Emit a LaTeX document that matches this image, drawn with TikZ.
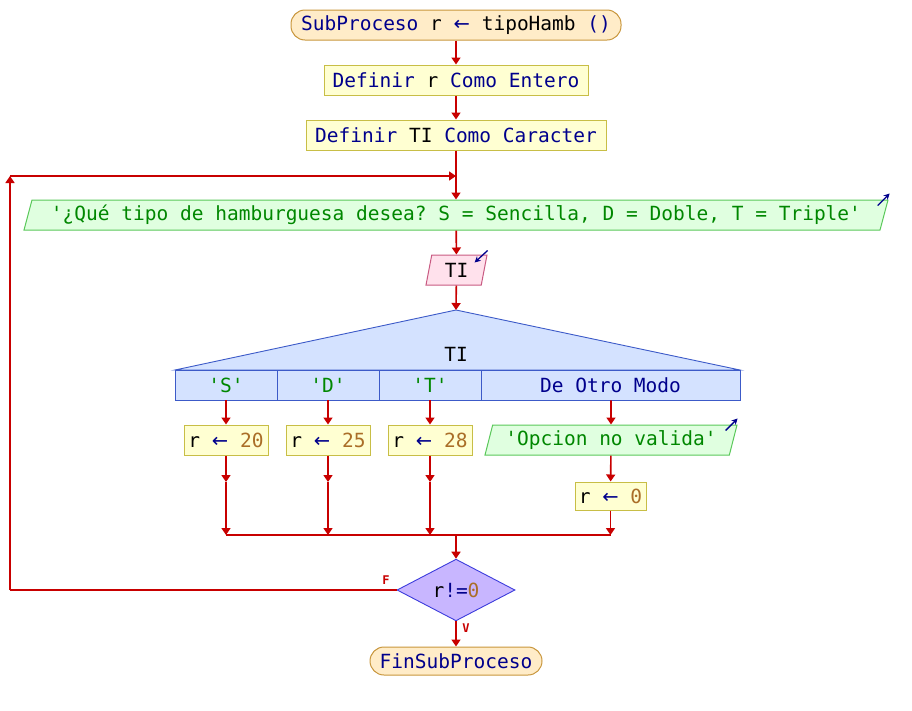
\documentclass[tikz,border=0pt]{standalone}
\usepackage{fontspec}
\setmonofont{DejaVu Sans Mono}
\newfontfamily\arrfont{DejaVu Sans}
\usetikzlibrary{arrows.meta}
\usetikzlibrary{shapes.geometric}
\definecolor{arrred}{RGB}{200,0,0}
\definecolor{kwblue}{RGB}{0,0,140}
\definecolor{numbrown}{RGB}{170,110,40}
\definecolor{strgreen}{RGB}{0,135,0}
\definecolor{termbg}{RGB}{255,236,200}
\definecolor{termbd}{RGB}{200,150,60}
\definecolor{procbg}{RGB}{255,255,210}
\definecolor{procbd}{RGB}{200,190,70}
\definecolor{outbg}{RGB}{224,255,224}
\definecolor{outbd}{RGB}{90,200,90}
\definecolor{inbg}{RGB}{255,225,236}
\definecolor{inbd}{RGB}{200,90,130}
\definecolor{swbg}{RGB}{212,226,255}
\definecolor{swbd}{RGB}{60,90,200}
\definecolor{condbg}{RGB}{200,182,255}
\definecolor{condbd}{RGB}{60,60,220}
\newcommand\kwd[1]{\textcolor{kwblue}{#1}}
\newcommand\numb[1]{\textcolor{numbrown}{#1}}
\newcommand\strg[1]{\textcolor{strgreen}{#1}}
\newcommand\asg{\kwd{{\arrfont ←}}}
\tikzset{arr/.style = {draw=arrred, line width=1.6, -{Triangle[length=7,width=9]}}}
\tikzset{term/.style = {draw=termbd, fill=termbg, line width=1, rounded corners=14, minimum height=30, inner sep=0}}
\tikzset{proc/.style = {draw=procbd, fill=procbg, line width=1, minimum height=30, inner sep=0}}
\tikzset{outp/.style = {trapezium, trapezium left angle=68, trapezium right angle=112,
    trapezium stretches body, draw=outbd, fill=outbg, line width=1, minimum height=30, inner sep=0}}
\tikzset{inp/.style = {outp, draw=inbd, fill=inbg}}
\tikzset{cell/.style = {draw=swbd, fill=swbg, line width=0.9, minimum height=30, inner sep=0}}
\tikzset{cond/.style = {diamond, draw=condbd, fill=condbg, line width=0.9, minimum width=118, minimum height=56, inner sep=0}}
\tikzset{icon/.style = {draw=kwblue, line width=1.3, -{Stealth[length=6,width=6]}}}
\tikzset{lab/.style = {text=arrred, font=\ttfamily\bfseries\fontsize{12}{14}\selectfont}}

\begin{document}
\begin{tikzpicture}[x=1pt, y=-1pt, font=\ttfamily\fontsize{19.5}{22}\selectfont]
      \useasboundingbox (0,0) rectangle (912,710);
      \node [term, minimum width=330] (start) at (456,25) {\kwd{SubProceso} r \asg{} tipoHamb \kwd{()}};
      \node [proc, minimum width=264] (defr) at (456,80) {\kwd{Definir} r \kwd{Como Entero}};
      \node [proc, minimum width=300] (defti) at (456,135) {\kwd{Definir} TI \kwd{Como Caracter}};
      \node [outp, minimum width=864] (msg) at (456,215)
        {\strg{'¿Qué tipo de hamburguesa desea? S = Sencilla, D = Doble, T = Triple'}};
      \node [inp, minimum width=61] (tiin) at (456.5,270) {TI};
      \draw [icon] ([shift={(-11,6)}]msg.top right corner) -- ([shift={(1,-6)}]msg.top right corner);
      \draw [icon] ([shift={(0,-4)}]tiin.top right corner) -- ([shift={(-13,8)}]tiin.top right corner);
      \draw [arr] (start) -- (defr);
      \draw [arr] (defr) -- (defti);
      \draw [arr] (defti) -- (msg);
      \draw [arr] (msg) -- (tiin);
      % switch
      \coordinate (sw) at (456,310);
      \draw [swbd, fill=swbg, line width=0.9] (sw) -- (740,370) -- (175,370) -- cycle;
      \node (swvar) at (456,354) {TI};
      \draw [arr] (tiin) -- (sw);
      \foreach \c/\v/\x in {S/20/226, D/25/328, T/28/430} {
        \node [cell, minimum width=102] (c\c) at (\x,385) {\strg{'\c'}};
        \node [proc, minimum width=84] (r\v) at (\x,440) {r \asg{} \numb{\v}};
        \coordinate (m\c) at (\x,482);
        \coordinate (j\c) at (\x,535);
        \draw [arr] (c\c) -- (r\v);
        \draw [arr] (r\v) -- (m\c);
        \draw [arr] (m\c) -- (j\c);
      }
      \node [cell, minimum width=259] (cO) at (610.5,385) {\kwd{De Otro Modo}};
      \node [outp, minimum width=252] (opc) at (611,440) {\strg{'Opcion no valida'}};
      \draw [icon] ([shift={(-12,6)}]opc.top right corner) -- ([shift={(0,-6)}]opc.top right corner);
      \node [proc, minimum width=71, minimum height=28] (r0) at (610.5,496) {r \asg{} \numb{0}};
      \coordinate (jO) at (610.5,535);
      \coordinate (jm) at (456,535);
      \draw [arr] (cO.south -| opc) -- (opc);
      \draw [arr] (opc) -- (r0);
      \draw [arr] (r0) -- (jO);
      \draw [arrred, line width=1.6] (jS) -- (jO);
      % loop
      \node [cond] (cnd) at (456,590) {r\kwd{!=}\numb{0}};
      \node [term, minimum width=172, minimum height=28] (fin) at (456,661) {\kwd{FinSubProceso}};
      \node [lab] (lf) at (386,580) {F};
      \node [lab] (lv) at (466,628) {V};
      \coordinate (lp1) at (10,590);
      \coordinate (lp2) at (10,176);
      \coordinate (lp3) at (456,176);
      \draw [arr] (jm) -- (cnd);
      \draw [arr] (cnd) -- (fin);
      \draw [arrred, line width=1.6] (cnd.west) -- (lp1);
      \draw [arr] (lp1) -- (lp2);
      \draw [arr] (lp2) -- (lp3);
    \end{tikzpicture}
\end{document}
